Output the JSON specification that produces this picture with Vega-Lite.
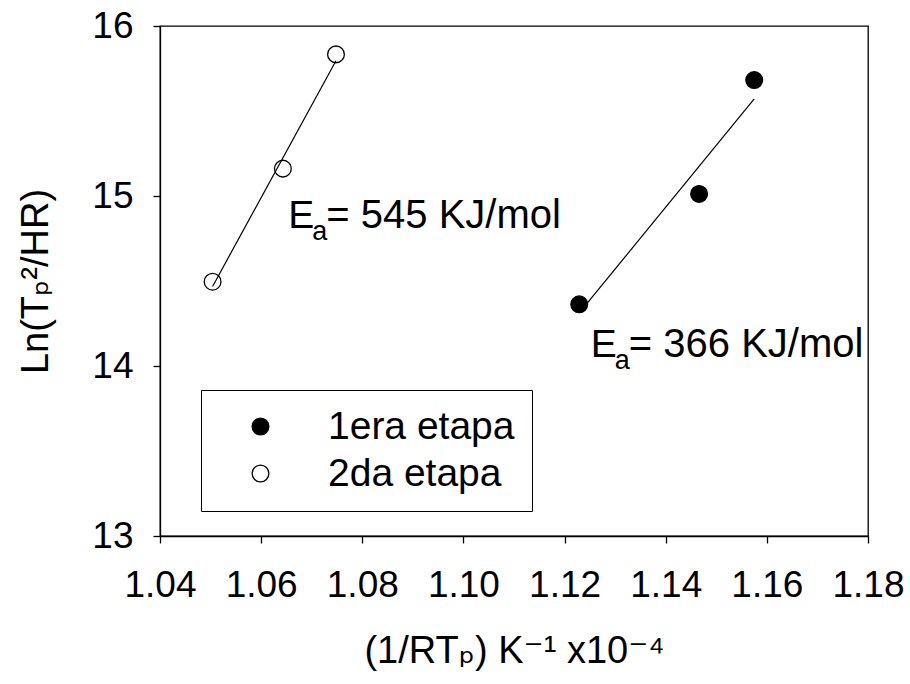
{
  "$schema": "https://vega.github.io/schema/vega-lite/v6.json",
  "width": 708,
  "height": 510,
  "autosize": {"type": "none"},
  "padding": {"left": 160, "top": 26, "right": 42, "bottom": 148},
  "background": "white",
  "datasets": {
    "points": [
      {"x": 1.1229, "y": 14.363, "series": "1era etapa"},
      {"x": 1.1466, "y": 15.012, "series": "1era etapa"},
      {"x": 1.1575, "y": 15.682, "series": "1era etapa"},
      {"x": 1.0504, "y": 14.496, "series": "2da etapa"},
      {"x": 1.0643, "y": 15.161, "series": "2da etapa"},
      {"x": 1.0748, "y": 15.833, "series": "2da etapa"}
    ],
    "fit": [
      {"x": 1.1229, "y": 14.312, "series": "1era etapa"},
      {"x": 1.1575, "y": 15.571, "series": "1era etapa"},
      {"x": 1.0504, "y": 14.468, "series": "2da etapa"},
      {"x": 1.0748, "y": 15.796, "series": "2da etapa"}
    ],
    "notes": [
      {"x": 1.06538, "y": 14.812, "label": "= 545 KJ/mol"},
      {"x": 1.1252, "y": 14.055, "label": "= 366 KJ/mol"}
    ]
  },
  "config": {
    "font": "Liberation Sans, Arial, DejaVu Sans, sans-serif",
    "view": {"stroke": "black", "strokeWidth": 1.3},
    "axis": {
      "grid": false,
      "domainColor": "black",
      "domainWidth": 1.3,
      "tickColor": "black",
      "tickWidth": 1.3,
      "tickSize": 7,
      "labelColor": "black",
      "labelFontSize": 37,
      "labelOverlap": false,
      "titleColor": "black",
      "titleFontSize": 38,
      "titleFontWeight": "normal"
    }
  },
  "layer": [
    {
      "data": {"name": "points"},
      "mark": {"type": "point", "filled": true, "size": 280, "stroke": "black", "strokeWidth": 1.3, "opacity": 1},
      "encoding": {
        "x": {
          "field": "x", "type": "quantitative",
          "scale": {"domain": [1.04, 1.18], "nice": false, "zero": false},
          "axis": {
            "values": [1.04, 1.06, 1.08, 1.1, 1.12, 1.14, 1.16, 1.18],
            "format": ".2f",
            "labelPadding": 24,
            "labelFlush": false,
            "title": "(1/RTₚ) K⁻¹ x10⁻⁴",
            "titleBaseline": "alphabetic",
            "titleY": 126
          }
        },
        "y": {
          "field": "y", "type": "quantitative",
          "scale": {"domain": [13, 16], "nice": false, "zero": false},
          "axis": {
            "values": [13, 14, 15, 16],
            "format": "d",
            "labelPadding": 20,
            "labelFlush": false,
            "title": "Ln(Tₚ²/HR)",
            "titleBaseline": "alphabetic",
            "titleX": -113
          }
        },
        "fill": {
          "field": "series", "type": "nominal",
          "scale": {"domain": ["1era etapa", "2da etapa"], "range": ["black", "white"]},
          "legend": {
            "title": null,
            "orient": "none",
            "legendX": 41,
            "legendY": 364,
            "direction": "vertical",
            "strokeColor": "black",
            "fillColor": "white",
            "padding": 17,
            "symbolOffset": 23,
            "labelOffset": 48,
            "labelFontSize": 39,
            "labelLimit": 0,
            "labelColor": "black",
            "rowPadding": 7,
            "symbolType": "circle",
            "symbolSize": 280,
            "symbolStrokeColor": "black",
            "symbolStrokeWidth": 1.3
          }
        }
      }
    },
    {
      "data": {"name": "fit"},
      "mark": {"type": "line", "color": "black", "strokeWidth": 1.2},
      "encoding": {
        "x": {"field": "x", "type": "quantitative"},
        "y": {"field": "y", "type": "quantitative"},
        "detail": {"field": "series"}
      }
    },
    {
      "data": {"name": "notes"},
      "mark": {"type": "text", "text": "E", "align": "left", "baseline": "alphabetic", "fontSize": 39, "color": "black"},
      "encoding": {
        "x": {"field": "x", "type": "quantitative"},
        "y": {"field": "y", "type": "quantitative"}
      }
    },
    {
      "data": {"name": "notes"},
      "mark": {"type": "text", "text": "a", "align": "left", "baseline": "alphabetic", "fontSize": 27, "color": "black", "dx": 24, "dy": 12},
      "encoding": {
        "x": {"field": "x", "type": "quantitative"},
        "y": {"field": "y", "type": "quantitative"}
      }
    },
    {
      "data": {"name": "notes"},
      "mark": {"type": "text", "align": "left", "baseline": "alphabetic", "fontSize": 40, "color": "black", "dx": 38},
      "encoding": {
        "x": {"field": "x", "type": "quantitative"},
        "y": {"field": "y", "type": "quantitative"},
        "text": {"field": "label"}
      }
    }
  ]
}
